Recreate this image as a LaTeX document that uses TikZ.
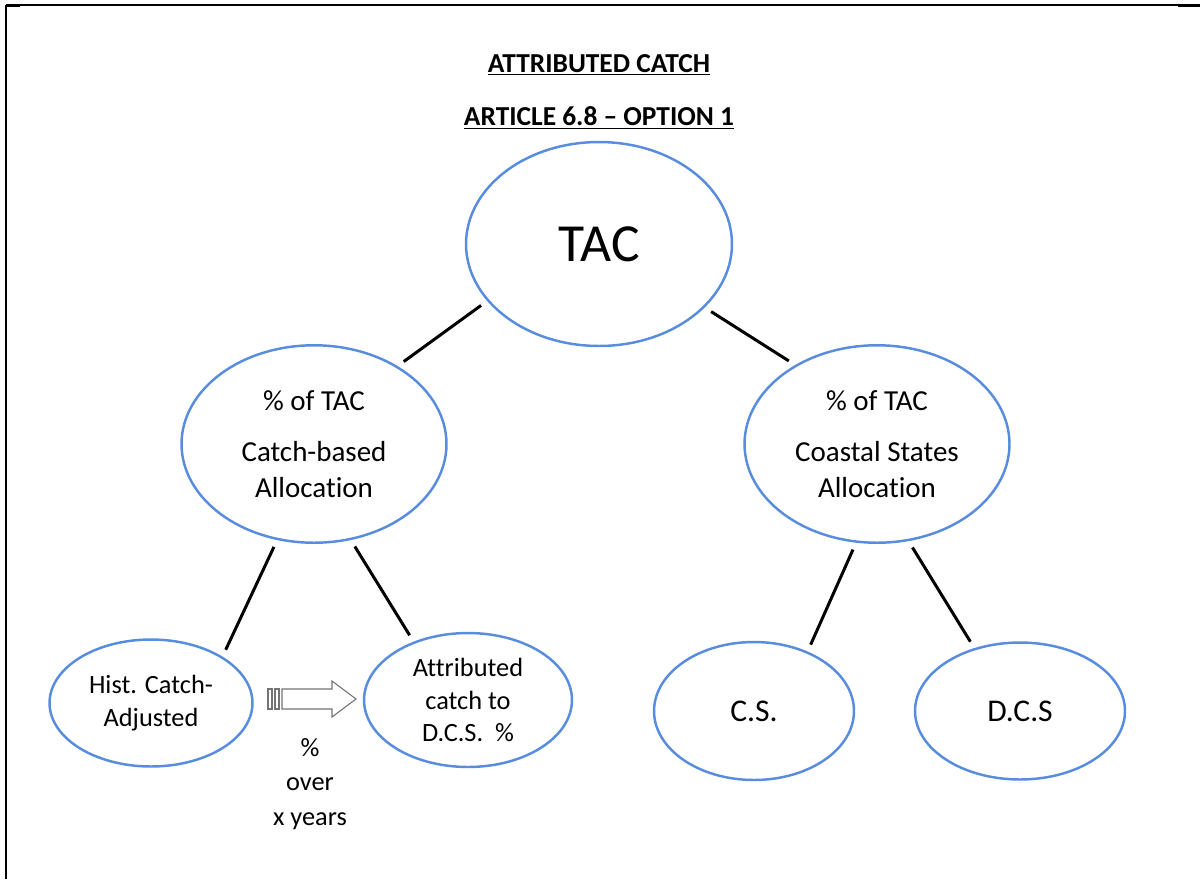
\documentclass[tikz,border=0pt]{standalone}
\usepackage{fontspec}
\setmainfont{Carlito}[Ligatures={NoCommon,NoRare,NoContextual},RawFeature={-liga;-clig;-calt;-dlig}]
\usepackage{tikz}
\usetikzlibrary{arrows.meta,positioning,shapes.geometric}

\definecolor{ovalblue}{RGB}{88,140,222}

\begin{document}
\begin{tikzpicture}[
  x=0.02cm,y=-0.02cm,
  bigoval/.style={ellipse,draw=ovalblue,line width=1.4pt,inner sep=0pt,
               minimum width=5.3cm,minimum height=3.95cm,align=center,
               font=\fontsize{16.5}{20.5}\selectfont},
  smalloval/.style={ellipse,draw=ovalblue,line width=1.4pt,inner sep=0pt,
               minimum width=4.1cm,minimum height=2.6cm,align=center,
               font=\fontsize{15}{18.5}\selectfont},
  link/.style={line width=1.7pt,shorten <=0.15cm,shorten >=0.15cm},
  heading/.style={font=\bfseries\fontsize{15.6}{18}\selectfont}
]
  % page frame
  \useasboundingbox (0,0) rectangle (1202,879);
  \draw[line width=0.8pt] (6,5) -- (1200,5);
  \draw[line width=1.3pt] (6,5) -- (6,879);
  \draw[line width=1.3pt] (6,6) -- (20,6);
  \draw[line width=1.3pt] (1178,6) -- (1200,6);

  \node[heading] (title) at (599,65) {\underline{ATTRIBUTED CATCH}};
  \node[heading] (subtitle) at (599,118) {\underline{ARTICLE 6.8 -- OPTION 1}};

  \node[bigoval,minimum width=5.32cm,minimum height=4.08cm,
        font=\fontsize{30.5}{36}\selectfont] (tac) at (599,244) {TAC};
  \node[bigoval] (catch) at (314,444) {\% of TAC\\[8.5pt]Catch-based\\Allocation};
  \node[bigoval] (coastal) at (877,444) {\% of TAC\\[8.5pt]Coastal States\\Allocation};

  \node[smalloval,minimum width=4.06cm,minimum height=2.54cm] (hist) at (151,703) {Hist. Catch-\\Adjusted};
  \node[smalloval,minimum width=4.16cm,minimum height=2.68cm] (attrib) at (468,700) {Attributed\\catch to\\D.C.S.~~\%};
  \node[smalloval,minimum width=4.0cm,minimum height=2.76cm,
        font=\fontsize{18}{21}\selectfont] (cs) at (754,711) {C.S.};
  \node[smalloval,minimum width=4.2cm,minimum height=2.74cm,
        font=\fontsize{18}{21}\selectfont] (dcs) at (1020,711) {D.C.S};

  \draw[link] (tac.207) -- (catch.43);
  \draw[link] (tac.329) -- (coastal.136);
  \draw[link] (catch.249) -- (hist.33);
  \draw[link] (catch.291) -- (attrib.133);
  \draw[link] (coastal.258) -- (cs.48);
  \draw[link] (coastal.288) -- (dcs.126);

  % striped block arrow
  \draw[black!55,line width=0.6pt,fill=white]
    (282,689) -- (332,689) -- (332,681) -- (356,699) -- (332,717)
    -- (332,709) -- (282,709) -- cycle;
  \draw[black!55,line width=0.6pt] (268,689) rectangle (272,709);
  \draw[black!55,line width=0.6pt] (275,689) rectangle (279,709);

  \node[align=center,font=\fontsize{15}{19.5}\selectfont] (rate) at (310,784) {\%\\over\\x years};
\end{tikzpicture}
\end{document}
